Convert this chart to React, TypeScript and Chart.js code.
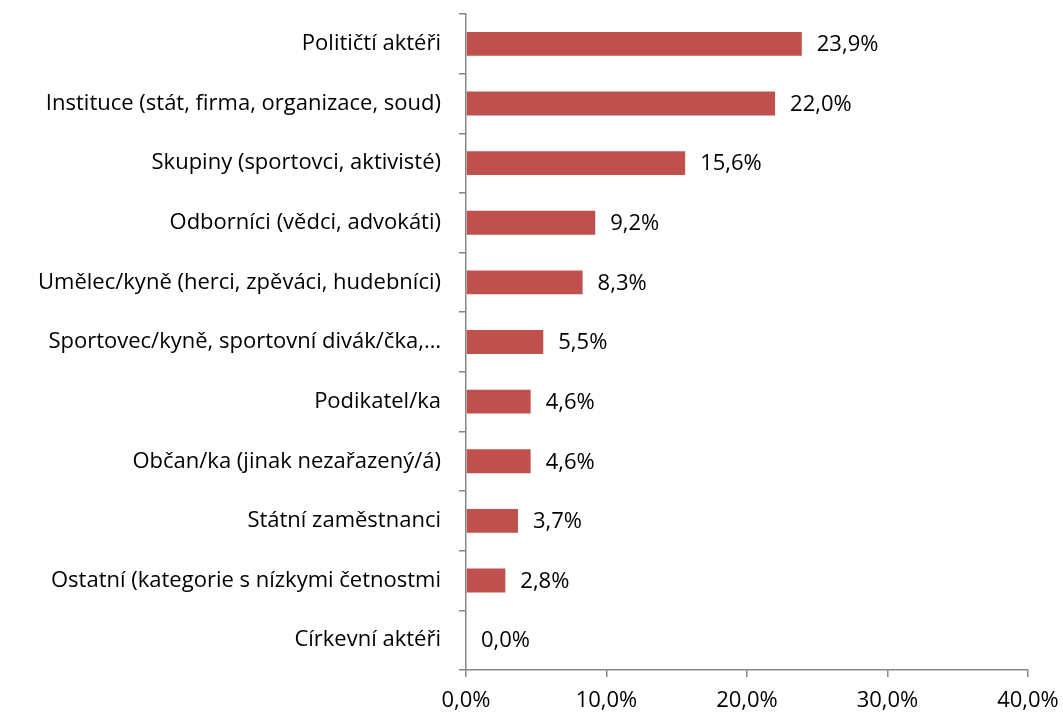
import React, { useEffect, useRef } from "react";
import { Chart, registerables } from "chart.js";

Chart.register(...registerables);

const categories = [
  "Političtí aktéři",
  "Instituce (stát, firma, organizace, soud)",
  "Skupiny (sportovci, aktivisté)",
  "Odborníci (vědci, advokáti)",
  "Umělec/kyně (herci, zpěváci, hudebníci)",
  "Sportovec/kyně, sportovní divák/čka,…",
  "Podikatel/ka",
  "Občan/ka (jinak nezařazený/á)",
  "Státní zaměstnanci",
  "Ostatní (kategorie s nízkymi četnostmi",
  "Církevní aktéři",
];
const values = [23.9, 22.0, 15.6, 9.2, 8.3, 5.5, 4.6, 4.6, 3.7, 2.8, 0.0];
const xTicks = [0, 10, 20, 30, 40];

const FONT = "'Open Sans', sans-serif";
const FSIZE = 22;
const AXIS = "#868686";

const fmt = (v: number) => v.toFixed(1).replace(".", ",") + "%";

const valueLabels = {
  id: "valueLabels",
  afterDatasetsDraw(chart: any) {
    const ctx = chart.ctx;
    const meta = chart.getDatasetMeta(0);
    ctx.save();
    ctx.font = `${FSIZE}px ${FONT}`;
    ctx.fillStyle = "#000";
    ctx.textAlign = "left";
    ctx.textBaseline = "middle";
    meta.data.forEach((bar: any, i: number) => {
      ctx.fillText(fmt(values[i]), bar.x + 15, bar.y + 1);
    });
    ctx.restore();
  },
};

export default function App() {
  const ref = useRef<HTMLCanvasElement | null>(null);
  useEffect(() => {
    if (!ref.current) return;
    const chart = new Chart(ref.current, {
      type: "bar",
      data: {
        labels: categories,
        datasets: [
          {
            data: values,
            backgroundColor: "#C0504D",
            barPercentage: 0.8,
            categoryPercentage: 0.5,
          },
        ],
      },
      options: {
        indexAxis: "y",
        animation: false,
        responsive: false,
        layout: { padding: { top: 14, right: 35, bottom: 0, left: 0 } },
        plugins: { legend: { display: false }, tooltip: { enabled: false } },
        scales: {
          x: {
            min: 0,
            max: 40,
            afterBuildTicks: (s: any) => {
              s.ticks = xTicks.map((v) => ({ value: v }));
            },
            afterFit: (s: any) => {
              s.height = 47;
              s.paddingLeft = 0;
              s.paddingRight = 0;
            },
            border: { color: AXIS, width: 1.5 },
            grid: {
              drawOnChartArea: false,
              drawTicks: true,
              tickLength: 7,
              color: AXIS,
              lineWidth: 1.5,
            },
            ticks: {
              color: "#000",
              font: { family: FONT, size: FSIZE },
              padding: 11,
              maxRotation: 0,
              callback: (v: any) => fmt(Number(v)),
            },
          },
          y: {
            afterFit: (s: any) => {
              s.width = 466;
              s.paddingTop = 0;
              s.paddingBottom = 0;
            },
            border: { color: AXIS, width: 1.5 },
            grid: {
              offset: true,
              drawOnChartArea: false,
              drawTicks: true,
              tickLength: 7,
              color: AXIS,
              lineWidth: 1.5,
            },
            ticks: {
              color: "#000",
              font: { family: FONT, size: FSIZE },
              padding: 18,
              autoSkip: false,
            },
          },
        },
      },
      plugins: [valueLabels],
    });
    return () => chart.destroy();
  }, []);
  return (
    <div style={{ position: "fixed", left: 0, top: 0, width: 1063, height: 717, background: "#fff" }}>
      <canvas ref={ref} width={1063} height={717} style={{ width: 1063, height: 717 }} />
    </div>
  );
}
